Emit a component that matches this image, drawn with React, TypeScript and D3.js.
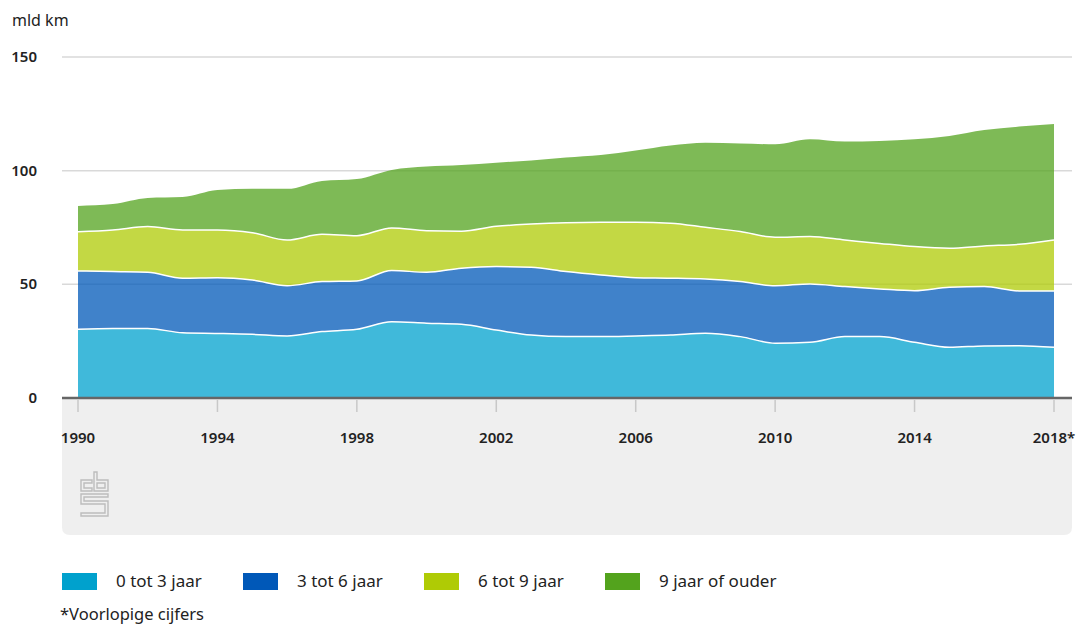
import React from "react";
import * as d3 from "d3";

// data (mld km)
const years = [1990, 1991, 1992, 1993, 1994, 1995, 1996, 1997, 1998, 1999, 2000, 2001, 2002, 2003, 2004, 2005, 2006, 2007, 2008, 2009, 2010, 2011, 2012, 2013, 2014, 2015, 2016, 2017, 2018];
const age0to3 = [30.2, 30.6, 30.6, 28.7, 28.4, 28.0, 27.3, 29.2, 30.2, 33.5, 32.9, 32.4, 29.9, 27.7, 27.0, 27.0, 27.3, 27.7, 28.5, 27.0, 24.1, 24.5, 27.0, 27.0, 24.5, 22.3, 22.9, 23.0, 22.3];
const age3to6 = [25.7, 25.0, 24.7, 24.0, 24.5, 23.9, 22.1, 22.0, 21.3, 22.6, 22.4, 24.7, 27.9, 29.8, 28.6, 27.1, 25.6, 25.0, 23.8, 24.2, 25.3, 25.7, 22.0, 21.0, 22.7, 26.4, 26.1, 24.1, 24.8];
const age6to9 = [17.2, 18.3, 20.1, 21.2, 21.0, 20.8, 20.1, 20.8, 19.9, 18.7, 18.3, 16.3, 17.7, 19.0, 21.5, 23.2, 24.4, 24.2, 22.8, 22.0, 21.3, 20.8, 20.5, 20.0, 19.4, 17.2, 17.9, 20.5, 22.4];
const age9plus = [11.4, 11.4, 12.6, 14.5, 17.6, 19.3, 22.5, 23.5, 24.9, 25.5, 28.2, 29.1, 28.0, 28.0, 28.7, 29.6, 31.6, 34.2, 37.2, 38.8, 40.9, 42.8, 43.3, 45.1, 47.2, 49.4, 51.0, 51.8, 51.0];

const seriesKeys = ["a", "b", "c", "d"];
const seriesLabels = ["0 tot 3 jaar", "3 tot 6 jaar", "6 tot 9 jaar", "9 jaar of ouder"];
const seriesColors = ["#00a1cd", "#0058b8", "#afcb05", "#53a31d"];
const yTicks = [0, 50, 100, 150];
const xTicks = [1990, 1994, 1998, 2002, 2006, 2010, 2014, 2018];

const font = "'Noto Sans', sans-serif";

function CbsLogo({ x, y }: { x: number; y: number }) {
  // rough outline of the cbs mark
  return (
    <g transform={`translate(${x},${y})`} fill="none" stroke="#bdbdbd" strokeWidth={1.4}>
      <path d="M1,8 H12 V11 H4 V16 H12 V19 H1 Z" />
      <path d="M14,0 H17 V8 H28 V19 H14 Z M17,11 V16 H25 V11 Z" />
      <path d="M1,22 H28 V25 H4 V29 H28 V44 H1 V41 H25 V32 H1 Z" />
    </g>
  );
}

export default function App() {
  const width = 1077;
  const height = 628;
  const left = 62;
  const right = 1072;

  const x = d3.scaleLinear().domain([1990, 2018]).range([78, 1054]);
  const y = d3.scaleLinear().domain([0, 150]).range([398, 57]);

  const table = years.map((yr, i) => ({
    year: yr,
    a: age0to3[i],
    b: age3to6[i],
    c: age6to9[i],
    d: age9plus[i],
  }));
  const stacked = d3.stack<any>().keys(seriesKeys)(table);

  const area = d3
    .area<any>()
    .x((d) => x(d.data.year))
    .y0((d) => y(d[0]))
    .y1((d) => y(d[1]))
    .curve(d3.curveMonotoneX);
  const topLine = d3
    .line<any>()
    .x((d) => x(d.data.year))
    .y((d) => y(d[1]))
    .curve(d3.curveMonotoneX);

  return (
    <svg width={width} height={height} style={{ position: "absolute", left: 0, top: 0 }}>
      <text x={12} y={26} fontFamily={font} fontSize={16} fill="#222">mld km</text>

      {/* gray panel below the axis */}
      <path
        d={`M${left},398 H${right} V${535 - 8} Q${right},535 ${right - 8},535 H${left + 8} Q${left},535 ${left},${535 - 8} Z`}
        fill="#efefef"
      />

      {yTicks.map((t) => (
        <g key={t}>
          {t > 0 && <line x1={left} x2={right} y1={y(t)} y2={y(t)} stroke="#d9d9d9" strokeWidth={1.5} />}
          <text x={37} y={y(t) + 5} textAnchor="end" fontFamily={font} fontSize={15} fontWeight={600} fill="#222">
            {t}
          </text>
        </g>
      ))}

      {stacked.map((s, i) => (
        <path key={s.key} d={area(s) || ""} fill={seriesColors[i]} fillOpacity={0.75} />
      ))}
      {stacked.slice(0, 3).map((s) => (
        <path key={"l" + s.key} d={topLine(s) || ""} fill="none" stroke="#fff" strokeWidth={1.5} />
      ))}

      <line x1={left} x2={right} y1={398} y2={398} stroke="#666" strokeWidth={2.5} />
      {xTicks.map((t) => (
        <g key={t}>
          <line x1={x(t)} x2={x(t)} y1={400} y2={412} stroke="#c8c8c8" strokeWidth={1.5} />
          <text x={x(t)} y={443} textAnchor="middle" fontFamily={font} fontSize={15} fontWeight={600} fill="#222">
            {t === 2018 ? "2018*" : t}
          </text>
        </g>
      ))}

      <CbsLogo x={80} y={472} />

      {seriesLabels.map((lab, i) => (
        <g key={lab} transform={`translate(${62 + i * 181},573)`}>
          <rect width={35} height={17} fill={seriesColors[i]} />
          <text x={54} y={14} fontFamily={font} fontSize={17} fill="#222">{lab}</text>
        </g>
      ))}
      <text x={60} y={620} fontFamily={font} fontSize={16.5} fill="#222">*Voorlopige cijfers</text>
    </svg>
  );
}
